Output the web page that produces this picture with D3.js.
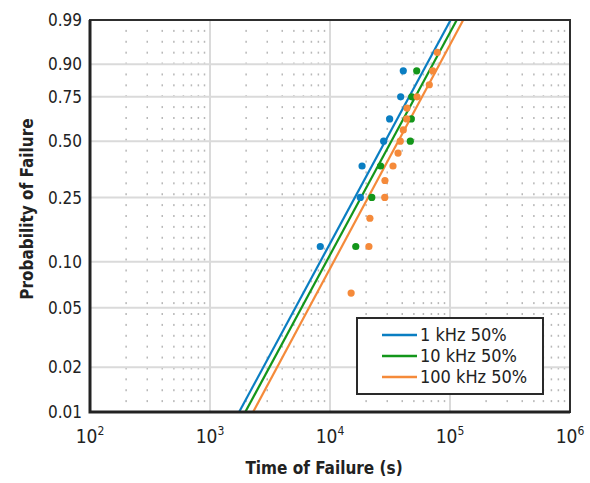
<!DOCTYPE html>
<html>
  <head>
    <meta charset="utf-8">
    <title>Weibull probability plot</title>
    <script src="https://cdn.jsdelivr.net/npm/d3@7"></script>
    <style>
      body { margin: 0; background: #fff; }
      text { font-family: "DejaVu Sans Condensed", "DejaVu Sans", sans-serif; font-stretch: condensed; fill: #222; }
    </style>
  </head>
  <body>
  <script>

    // probability axis ticks
    var probTicks = [0.01, 0.02, 0.05, 0.10, 0.25, 0.50, 0.75, 0.90, 0.99];
    var probLabels = ["0.01", "0.02", "0.05", "0.10", "0.25", "0.50", "0.75", "0.90", "0.99"];

    // time axis ticks (powers of ten)
    var timeExponents = [2, 3, 4, 5, 6];

    // series
    var seriesNames = ["1 kHz 50%", "10 kHz 50%", "100 kHz 50%"];
    var seriesColors = ["#0a7ec2", "#13961a", "#f58a3a"];

    // failure times (s) and plotting probabilities
    var time1k = [8300, 17900, 18500, 28000, 31400, 38800, 40800];
    var prob1k = [0.125, 0.25, 0.375, 0.5, 0.625, 0.75, 0.875];

    var time10k = [16400, 22300, 26400, 46700, 47600, 48000, 52800];
    var prob10k = [0.125, 0.25, 0.375, 0.5, 0.625, 0.75, 0.875];

    var time100k = [15000, 21100, 21500, 28600, 28700, 33500, 36900, 38500, 40800, 43600, 43800, 53100, 67200, 71800, 78400];
    var prob100k = [0.0625, 0.125, 0.1875, 0.25, 0.3125, 0.375, 0.4375, 0.5, 0.5625, 0.625, 0.6875, 0.75, 0.8125, 0.875, 0.9375];

    // Weibull fit parameters (scale eta in s, shape beta)
    var fitEta = [36800, 41400, 47200];
    var fitBeta = [1.51, 1.51, 1.52];

    var width = 590, height = 483;
    var mLeft = 90, mRight = 570, mTop = 20, mBottom = 412;

    // Weibull probability transform
    function wz(p) { return Math.log(-Math.log(1 - p)); }

    var x = d3.scaleLog().domain([1e2, 1e6]).range([mLeft, mRight]);
    var y = d3.scaleLinear().domain([wz(0.01), wz(0.99)]).range([mBottom, mTop]);

    var svg = d3.select("body").append("svg")
        .attr("width", width)
        .attr("height", height);

    // minor dotted grid: dots at minor log columns x evenly spaced rows
    var minorX = [];
    for (var e = 2; e < 6; e++) {
      for (var m = 2; m < 10; m++) { minorX.push(m * Math.pow(10, e)); }
    }
    var nRows = 36;
    var minorY = d3.range(1, nRows).map(function (k) { return mTop + k * (mBottom - mTop) / nRows; });
    var dots = [];
    minorX.forEach(function (t) {
      minorY.forEach(function (py) { dots.push([x(t), py]); });
    });
    svg.append("g").selectAll("rect")
        .data(dots)
        .enter().append("rect")
        .attr("x", function (d) { return d[0] - 0.75; })
        .attr("y", function (d) { return d[1] - 1; })
        .attr("width", 1.5)
        .attr("height", 2)
        .style("fill", "#b8b8b8");

    // major grid
    var grid = svg.append("g").style("stroke", "#dadada").style("stroke-width", 2);
    grid.selectAll("line.v")
        .data(timeExponents.slice(1, -1))
        .enter().append("line")
        .attr("x1", function (d) { return x(Math.pow(10, d)); })
        .attr("x2", function (d) { return x(Math.pow(10, d)); })
        .attr("y1", mTop)
        .attr("y2", mBottom);
    grid.selectAll("line.h")
        .data(probTicks.slice(1, -1))
        .enter().append("line")
        .attr("x1", mLeft)
        .attr("x2", mRight)
        .attr("y1", function (d) { return y(wz(d)); })
        .attr("y2", function (d) { return y(wz(d)); });

    // fit lines
    var fits = fitEta.map(function (eta, i) {
      return [0.01, 0.99].map(function (p) {
        return { t: eta * Math.pow(-Math.log(1 - p), 1 / fitBeta[i]), p: p };
      });
    });
    var line = d3.line()
        .x(function (d) { return x(d.t); })
        .y(function (d) { return y(wz(d.p)); });
    svg.append("g").selectAll("path")
        .data(fits)
        .enter().append("path")
        .attr("d", line)
        .style("fill", "none")
        .style("stroke", function (d, i) { return seriesColors[i]; })
        .style("stroke-width", 2.2);

    // data points
    var pts = [[time1k, prob1k], [time10k, prob10k], [time100k, prob100k]];
    pts.forEach(function (s, i) {
      svg.append("g").selectAll("circle")
          .data(s[0])
          .enter().append("circle")
          .attr("cx", function (d) { return x(d); })
          .attr("cy", function (d, j) { return y(wz(s[1][j])); })
          .attr("r", 3.6)
          .style("fill", seriesColors[i]);
    });

    // frame
    svg.append("rect")
        .attr("x", mLeft).attr("y", mTop)
        .attr("width", mRight - mLeft).attr("height", mBottom - mTop)
        .style("fill", "none").style("stroke", "#2e2e2e").style("stroke-width", 2);
    svg.append("path")
        .attr("d", "M" + mLeft + "," + mTop + "V" + mBottom + "H" + mRight)
        .style("fill", "none").style("stroke", "#222").style("stroke-width", 3);

    // y tick labels
    svg.append("g").selectAll("text")
        .data(probTicks)
        .enter().append("text")
        .attr("x", mLeft - 8)
        .attr("y", function (d) { return y(wz(d)); })
        .attr("dy", "0.36em")
        .attr("text-anchor", "end")
        .style("font-size", "17px")
        .text(function (d, i) { return probLabels[i]; });

    // x tick labels
    var xt = svg.append("g").selectAll("text")
        .data(timeExponents)
        .enter().append("text")
        .attr("x", function (d) { return x(Math.pow(10, d)); })
        .attr("y", 443)
        .attr("text-anchor", "middle")
        .style("font-size", "19px");
    xt.append("tspan").text("10");
    xt.append("tspan").attr("dy", -8).style("font-size", "12px").text(function (d) { return d; });

    // axis titles
    svg.append("text")
        .attr("x", (mLeft + mRight) / 2 - 6)
        .attr("y", 474)
        .attr("text-anchor", "middle")
        .style("font-size", "17px").style("font-weight", "bold")
        .text("Time of Failure (s)");
    svg.append("text")
        .attr("transform", "translate(33,209) rotate(-90)")
        .attr("text-anchor", "middle")
        .style("font-size", "17px").style("font-weight", "bold")
        .text("Probability of Failure");

    // legend
    var lg = svg.append("g");
    lg.append("rect")
        .attr("x", 357).attr("y", 318)
        .attr("width", 186).attr("height", 76)
        .style("fill", "#fff").style("stroke", "#2a2a2a").style("stroke-width", 2);
    var rows = lg.selectAll("g")
        .data(seriesNames)
        .enter().append("g")
        .attr("transform", function (d, i) { return "translate(0," + (335 + i * 21) + ")"; });
    rows.append("line")
        .attr("x1", 382).attr("x2", 417)
        .style("stroke", function (d, i) { return seriesColors[i]; })
        .style("stroke-width", 2.5);
    rows.append("text")
        .attr("x", 420)
        .attr("dy", "0.36em")
        .style("font-size", "18px")
        .text(function (d) { return d; });

  </script>
  </body>
</html>
